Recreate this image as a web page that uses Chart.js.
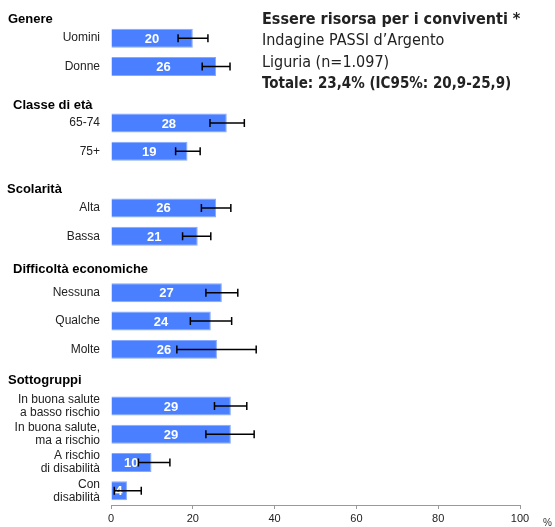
<!DOCTYPE html>
<html>
<head>
<meta charset="utf-8">
<script src="https://cdn.jsdelivr.net/npm/chart.js@4.4.1/dist/chart.umd.min.js"></script>
<style>
body{margin:0;background:#fff;}
#wrap{position:relative;width:555px;height:527px;}
</style>
</head>
<body>
<div id="wrap"><canvas id="graph"></canvas></div>
<script>
//categories (empty strings are the gaps between groups)//
var categories = ['Uomini','Donne','','65-74','75+','','Alta','Bassa','','Nessuna','Qualche','Molte','',
  ['In buona salute','a basso rischio'],['In buona salute,','ma a rischio'],['A rischio','di disabilità'],['Con','disabilità']];
var values = [20.0,25.7,null,28.3,18.7,null,25.7,21.2,null,27.1,24.4,25.9,null,29.3,29.3,9.9,3.9];
var lower  = [16.4,22.3,null,24.2,15.8,null,22.1,17.5,null,23.2,19.4,16.1,null,25.3,23.2,6.7,0.8];
var upper  = [23.7,29.1,null,32.6,21.8,null,29.3,24.4,null,31.0,29.5,35.5,null,33.2,35.0,14.4,7.4];
//group headers and the index of their first bar//
var groups = ['Genere','Classe di età','Scolarità','Difficoltà economiche','Sottogruppi'];
var groupStart = [0,3,6,9,13];
var xTicks = [0,20,40,60,80,100];
var titleLines = ['Essere risorsa per i conviventi *','Indagine PASSI d\u2019Argento','Liguria (n=1.097)','Totale: 23,4% (IC95%: 20,9-25,9)'];

var FONT = '"Liberation Sans", Arial, sans-serif';
var NARROW = '"Liberation Sans Narrow", "DejaVu Sans Condensed", sans-serif';

//draws value labels, error bars, headers and title//
const extras = {
  id: 'extras',
  afterDatasetsDraw(chart){
    const ctx = chart.ctx;
    const xs = chart.scales.x, ys = chart.scales.y;
    ctx.save();
    ctx.fillStyle = '#fff';
    ctx.font = 'bold 13px ' + FONT;
    ctx.textAlign = 'center';
    ctx.textBaseline = 'middle';
    for (let i=0; i<values.length; i++){
      if (values[i]==null) continue;
      var y = ys.getPixelForValue(i);
      ctx.fillText(Math.round(values[i]), (xs.getPixelForValue(0)+xs.getPixelForValue(values[i]))/2, y+1);
    }
    ctx.strokeStyle = '#000';
    ctx.lineWidth = 1.5;
    for (let i=0; i<values.length; i++){
      if (values[i]==null) continue;
      var y = ys.getPixelForValue(i);
      var a = xs.getPixelForValue(lower[i]), b = xs.getPixelForValue(upper[i]);
      ctx.beginPath();
      ctx.moveTo(a,y); ctx.lineTo(b,y);
      ctx.moveTo(a,y-4); ctx.lineTo(a,y+4);
      ctx.moveTo(b,y-4); ctx.lineTo(b,y+4);
      ctx.stroke();
    }
    //group headers//
    var hx = [8,13,7,13,8];
    var hoff = [19,18,18,23,26];
    ctx.fillStyle = '#000';
    ctx.font = 'bold 13px ' + FONT;
    ctx.textAlign = 'left';
    for (let g=0; g<groups.length; g++){
      ctx.fillText(groups[g], hx[g], ys.getPixelForValue(groupStart[g]) - hoff[g]);
    }
    //title block//
    ctx.fillStyle = '#222';
    for (let t=0; t<titleLines.length; t++){
      var bold = (t==0 || t==3);
      ctx.font = (bold ? 'bold ' : '') + (t==3 ? '15px ' : '16px ') + NARROW;
      ctx.fillText(titleLines[t], 262, 20 + t*21.3);
    }
    ctx.font = '10px ' + FONT;
    ctx.fillStyle = '#333';
    ctx.fillText('%', 543, 523);
    ctx.restore();
  }
};

const graph = new Chart('graph', {
  type: 'bar',
  data: {
    labels: categories,
    datasets: [{
      data: values,
      backgroundColor: '#4a7fff',
      borderColor: '#86a9ff',
      borderWidth: 1,
      barPercentage: 0.67,
      categoryPercentage: 1
    }]
  },
  options: {
    indexAxis: 'y',
    responsive: true,
    maintainAspectRatio: false,
    animation: false,
    layout: { padding: { top: 24, right: 35, left: 0, bottom: 0 } },
    plugins: { legend: { display: false }, tooltip: { enabled: false } },
    scales: {
      x: {
        min: 0, max: 100,
        afterBuildTicks: function(s){ s.ticks = xTicks.map(v => ({value: v})); },
        afterFit: function(s){ s.height = 22; },
        grid: { drawOnChartArea: false, tickLength: 4, color: '#999' },
        border: { color: '#999' },
        ticks: { color: '#222', font: { size: 11, family: FONT }, padding: 3, maxRotation: 0 }
      },
      y: {
        afterFit: function(s){ s.width = 111; },
        grid: { display: false },
        border: { display: false },
        ticks: { color: '#222', font: { size: 12, family: FONT, lineHeight: 1.1 }, padding: 3, autoSkip: false }
      }
    }
  },
  plugins: [extras]
});
</script>
</body>
</html>
